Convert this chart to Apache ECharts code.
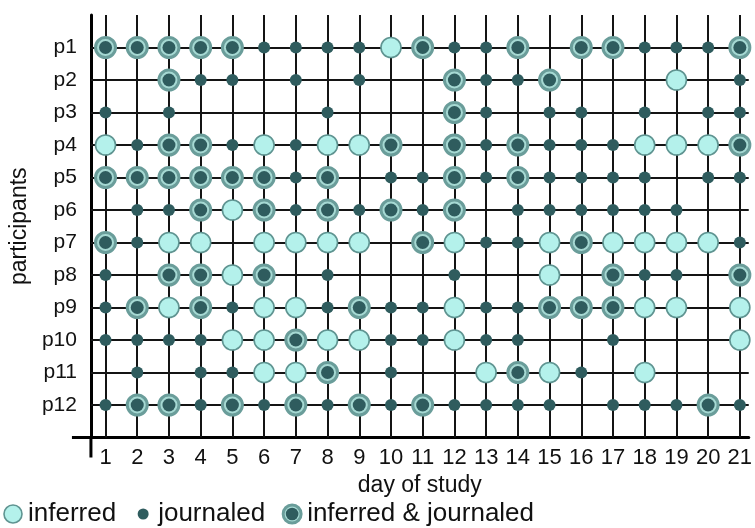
<!DOCTYPE html>
<html>
<head>
<meta charset="utf-8">
<script src="https://cdn.jsdelivr.net/npm/echarts@6/dist/echarts.min.js"></script>
<style>
  html, body { margin: 0; padding: 0; background: #fff; }
  #chart { width: 755px; height: 528px; }
</style>
</head>
<body>
<div id="chart"></div>
<script>
const participants = ['p1', 'p2', 'p3', 'p4', 'p5', 'p6', 'p7', 'p8', 'p9', 'p10', 'p11', 'p12']
const days = [1, 2, 3, 4, 5, 6, 7, 8, 9, 10, 11, 12, 13, 14, 15, 16, 17, 18, 19, 20, 21]
// one letter per day: I = inferred, J = journaled, B = inferred & journaled, . = nothing
const p1 = 'BBBBBJJJJIBJJB.BBJJJB'
const p2 = '..BJJ.J.J..BJJB...I.J'
const p3 = 'J.J....J...BJ.JJ.J.JJ'
const p4 = 'IJBBJIJIIB.BJBJJJIIIB'
const p5 = 'BBBBBBJB.JJBJBJJJJ.JJ'
const p6 = '.JJBIBJBJBJB.JJJJJJ..'
const p7 = 'BJII.IIII.BIJJIBIIIIJ'
const p8 = 'J.BBIB.J...J..I.BJJ.B'
const p9 = 'JBIBJIIJBJJIJJBBBII.I'
const p10 = 'JJJJIIBIIJJIJJ..J...I'
const p11 = '.J.JJIIB.J..IBIJ.I...'
const p12 = 'JBBJBJBJBJBJJJJ.JJJBJ'
const rows = [p1, p2, p3, p4, p5, p6, p7, p8, p9, p10, p11, p12]

const LIGHT = '#b4f1eb'
const DARK = '#2f5c5e'
const RING = '#5f9491'
const FONT = 'Liberation Sans'

const inferred = []
const journaled = []
const both = []
rows.forEach((row, i) => {
  days.forEach((d, j) => {
    const c = row[j]
    if (c === 'I') inferred.push([d, i + 1])
    if (c === 'J') journaled.push([d, i + 1])
    if (c === 'B') both.push([d, i + 1])
  })
})

const svgIcon = (body) => 'image://data:image/svg+xml;charset=utf-8,' +
  encodeURIComponent("<svg xmlns='http://www.w3.org/2000/svg' width='22' height='22'>" + body + '</svg>')

const iconInferred = svgIcon(`<circle cx='11' cy='11' r='9' fill='${LIGHT}' stroke='${RING}' stroke-width='1.6'/>`)
const iconJournaled = svgIcon(`<circle cx='11' cy='11' r='5.5' fill='${DARK}'/>`)
const iconBoth = svgIcon(`<circle cx='11' cy='11' r='9' fill='#a6d9d3' stroke='#6a9d9a' stroke-width='3'/><circle cx='11' cy='11' r='6.3' fill='${DARK}'/>`)

const xMin = 0.54
const xMax = 21.28

const chart = echarts.init(document.getElementById('chart'))
const option = {
  animation: false,
  backgroundColor: '#fff',
  grid: { left: 84, right: 0, top: 15, bottom: 90.5, containLabel: false },
  xAxis: {
    type: 'value',
    min: xMin,
    max: xMax,
    name: 'day of study',
    nameLocation: 'middle',
    nameGap: 37,
    nameTextStyle: { fontFamily: FONT, fontSize: 23, color: '#111' },
    axisLine: { show: true, onZero: false, lineStyle: { color: '#000', width: 3 } },
    axisTick: { show: false },
    splitLine: { show: false },
    axisLabel: {
      customValues: days,
      fontFamily: FONT,
      fontSize: 22,
      color: '#111',
      margin: 9
    }
  },
  yAxis: {
    type: 'value',
    inverse: true,
    min: 0,
    max: 13,
    name: 'participants',
    nameLocation: 'middle',
    nameGap: 58,
    nameTextStyle: { fontFamily: FONT, fontSize: 23, color: '#111' },
    axisLine: { show: true, onZero: false, lineStyle: { color: '#000', width: 3 } },
    axisTick: { show: false },
    splitLine: { show: false },
    axisLabel: {
      customValues: participants.map((p, i) => i + 1),
      formatter: (v) => participants[v - 1],
      fontFamily: FONT,
      fontSize: 21,
      color: '#111',
      margin: 14
    }
  },
  legend: {
    left: 0,
    top: 499,
    padding: [2, 2],
    itemGap: 16,
    itemWidth: 22,
    itemHeight: 22,
    textStyle: { fontFamily: FONT, fontSize: 26, color: '#111', padding: [0, 0, 0, -1] },
    data: [
      { name: 'inferred', icon: iconInferred },
      { name: 'journaled', icon: iconJournaled },
      { name: 'inferred & journaled', icon: iconBoth }
    ]
  },
  series: [
    {
      name: 'grid',
      type: 'scatter',
      data: [],
      z: 1,
      silent: true,
      markLine: {
        z: 1,
        silent: true,
        symbol: ['none', 'none'],
        label: { show: false },
        emphasis: { disabled: true },
        lineStyle: { color: '#141414', width: 2, type: 'solid' },
        data: days.map(d => ({ xAxis: d })).concat(participants.map((p, i) => ({ yAxis: i + 1 })))
      }
    },
    {
      name: 'journaled',
      type: 'scatter',
      z: 10,
      symbolSize: 12,
      itemStyle: { color: DARK, opacity: 1 },
      data: journaled
    },
    {
      name: 'inferred',
      type: 'scatter',
      z: 10,
      symbolSize: 20,
      itemStyle: { color: LIGHT, borderColor: RING, borderWidth: 1.6, opacity: 1 },
      data: inferred
    },
    {
      name: 'inferred & journaled',
      type: 'scatter',
      z: 10,
      symbolSize: 20,
      itemStyle: { color: '#a6d9d3', borderColor: '#6a9d9a', borderWidth: 3, opacity: 1 },
      data: both
    },
    {
      name: 'both core',
      type: 'scatter',
      z: 11,
      symbolSize: 13,
      itemStyle: { color: DARK, opacity: 1 },
      data: both
    }
  ]
}
chart.setOption(option)

// axis lines run a little past the corner where they cross
const corner = chart.convertToPixel({ gridIndex: 0 }, [xMin, 13])
chart.setOption({
  graphic: [
    { type: 'line', shape: { x1: corner[0] - 19, y1: corner[1], x2: corner[0], y2: corner[1] }, style: { stroke: '#000', lineWidth: 3 } },
    { type: 'line', shape: { x1: corner[0], y1: corner[1], x2: corner[0], y2: corner[1] + 20 }, style: { stroke: '#000', lineWidth: 3 } }
  ]
})
</script>
</body>
</html>
